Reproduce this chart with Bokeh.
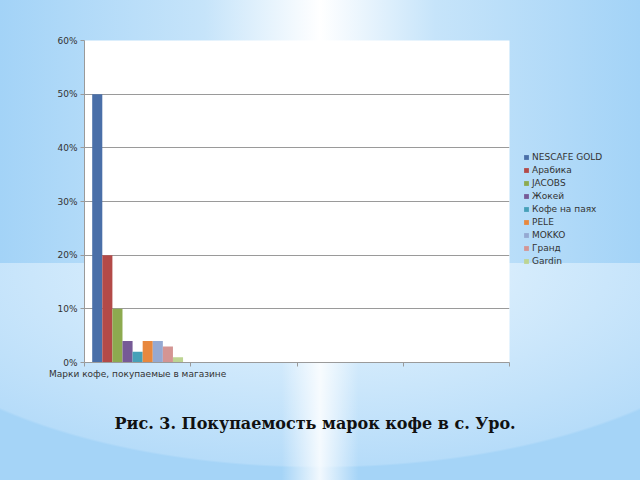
from bokeh.plotting import figure
from bokeh.models import (Range1d, FixedTicker, NumeralTickFormatter, Legend, LegendItem,
                          Title, ColumnDataSource)
from bokeh.embed import file_html
from bokeh.resources import INLINE

# ---- data ----
brands = ["NESCAFE GOLD", "Арабика", "JACOBS", "Жокей", "Кофе на паях",
          "PELE", "MOKKO", "Гранд", "Gardin"]
shares = [0.50, 0.20, 0.10, 0.04, 0.02, 0.04, 0.04, 0.03, 0.01]
category_label = "Марки кофе, покупаемые в магазине"
n_slots = 4
y_ticks = [0.0, 0.1, 0.2, 0.3, 0.4, 0.5, 0.6]
caption = "Рис. 3. Покупаемость марок кофе в с. Уро."
colors = ["#4A6FA8", "#B34A48", "#8DAA4F", "#765A96", "#46A0B8",
          "#E8883E", "#95A9D2", "#D49593", "#BDD492"]

bw = 0.095
xs = [0.5 + (i - (len(brands) - 1) / 2) * bw for i in range(len(brands))]

p = figure(frame_width=425, frame_height=322, output_backend="svg", toolbar_location=None,
           x_range=Range1d(0, n_slots), y_range=Range1d(0, 0.6),
           min_border_left=84, min_border_right=130, min_border_top=40,
           min_border_bottom=118)
p.border_fill_alpha = 0
p.background_fill_color = "white"
p.outline_line_color = None

renderers = []
for i, (b, v) in enumerate(zip(brands, shares)):
    src = ColumnDataSource(dict(x=[xs[i]], top=[v]))
    r = p.vbar(x="x", top="top", width=bw, bottom=0, source=src,
               fill_color=colors[i], line_color=None)
    renderers.append(r)

# grid
p.xgrid.visible = False
p.ygrid.grid_line_color = "#9a9a9a"
p.ygrid.grid_line_width = 1.2
p.ygrid.ticker = FixedTicker(ticks=y_ticks)

# y axis
ya = p.yaxis[0]
ya.ticker = FixedTicker(ticks=y_ticks)
ya.formatter = NumeralTickFormatter(format="0%")
ya.axis_line_color = "#9a9a9a"
ya.major_tick_line_color = "#9a9a9a"
ya.major_tick_out = 4
ya.major_tick_in = 0
ya.minor_tick_line_color = None
ya.major_label_text_font = "DejaVu Sans"
ya.major_label_text_font_size = "9px"
ya.major_label_text_color = "#333333"
ya.major_label_standoff = 3

# x axis
xa = p.xaxis[0]
xa.ticker = FixedTicker(ticks=[0.5], minor_ticks=list(range(n_slots + 1)))
xa.major_label_overrides = {0.5: category_label}
xa.major_tick_line_color = None
xa.minor_tick_line_color = "#9a9a9a"
xa.minor_tick_out = 4
xa.minor_tick_in = 0
xa.axis_line_color = "#9a9a9a"
xa.axis_line_width = 1.2
xa.major_label_text_font = "DejaVu Sans"
xa.major_label_text_font_size = "9px"
xa.major_label_text_color = "#333333"
xa.major_label_standoff = 0

# legend (side panel right of the frame)
legend = Legend(items=[LegendItem(label=b, renderers=[r]) for b, r in zip(brands, renderers)],
                location=(14, 95))
legend.label_text_font = "DejaVu Sans"
legend.label_text_font_size = "9px"
legend.label_text_color = "#333333"
legend.glyph_width = 6
legend.glyph_height = 6
legend.label_height = 13
legend.label_standoff = 3
legend.spacing = 0
legend.padding = 0
legend.margin = 0
legend.border_line_color = None
legend.background_fill_alpha = 0
p.add_layout(legend, "right")

# caption
t = Title(text=caption, text_font="DejaVu Serif", text_font_style="bold",
          text_font_size="16px", text_color="#111111", align="left",
          standoff=60, offset=30)
p.add_layout(t, "below")

html = file_html(p, INLINE)
style = """<style>
html { height: 100%; background:
  linear-gradient(to right, rgba(255,255,255,0) 44%, rgba(255,255,255,0.85) 50%, rgba(255,255,255,0) 56%) 0 263px / 640px 217px no-repeat,
  radial-gradient(ellipse 460px 205px at 320px 0px, #f4faff 0%, #d4ebfc 45%, #b6dcf9 99%, rgba(0,0,0,0) 100%) 0 263px / 640px 217px no-repeat,
  linear-gradient(to right, #a3d3f7 0%, #c6e4fa 32%, #ffffff 50%, #c6e4fa 68%, #a3d3f7 100%) 0 0 / 640px 263px no-repeat,
  #a5d4f7; }
body { background: transparent; }
</style>"""
html = html.replace("</head>", style + "</head>", 1)
open("out.html", "w").write(html)
